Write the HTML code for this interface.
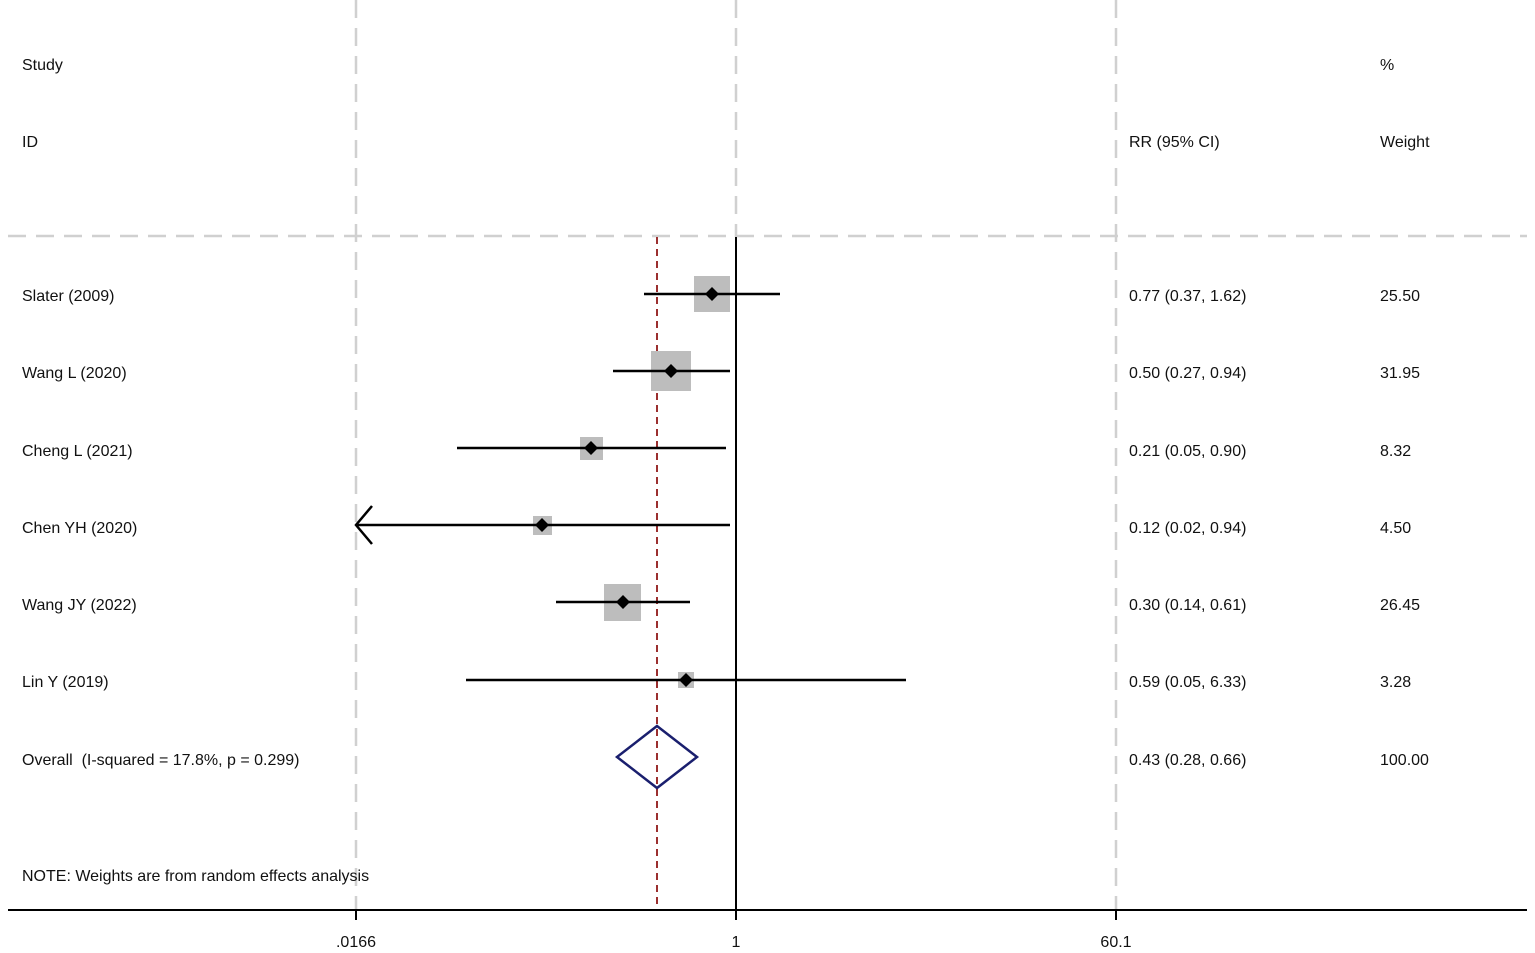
<!DOCTYPE html>
<html><head><meta charset="utf-8"><style>
html,body{margin:0;padding:0;background:#fff;}
svg{display:block}
text{font-family:"Liberation Sans",Arial,sans-serif;font-size:16px;fill:#111}
</style></head><body>
<svg width="1535" height="953" viewBox="0 0 1535 953" xmlns="http://www.w3.org/2000/svg">
<g stroke="#d0d0d0" stroke-width="2.5" stroke-dasharray="18,10" fill="none">
<line x1="356" y1="0" x2="356" y2="910"/>
<line x1="736" y1="0" x2="736" y2="237"/>
<line x1="1116" y1="0" x2="1116" y2="910"/>
<line x1="8" y1="236" x2="1527" y2="236"/>
</g>
<line x1="736" y1="237" x2="736" y2="910" stroke="#000" stroke-width="2"/>
<line x1="657" y1="237" x2="657" y2="910" stroke="#9b2f2f" stroke-width="2" stroke-dasharray="7,5"/>
<line x1="8" y1="910" x2="1527" y2="910" stroke="#000" stroke-width="2"/>
<g stroke="#000" stroke-width="2">
<line x1="356" y1="910" x2="356" y2="920"/><line x1="736" y1="910" x2="736" y2="920"/><line x1="1116" y1="910" x2="1116" y2="920"/>
</g>
<g fill="#bdbdbd">
<rect x="694" y="276" width="36" height="36"/>
<rect x="651" y="351" width="40" height="40"/>
<rect x="580" y="437" width="23" height="23"/>
<rect x="533" y="516" width="19" height="19"/>
<rect x="604" y="584" width="37" height="37"/>
<rect x="678" y="672" width="16" height="16"/>
</g>
<g stroke="#000" stroke-width="2.5">
<line x1="644" y1="294" x2="780" y2="294"/>
<line x1="613" y1="371" x2="730" y2="371"/>
<line x1="457" y1="448" x2="726" y2="448"/>
<line x1="356" y1="525" x2="730" y2="525"/>
<line x1="556" y1="602" x2="690" y2="602"/>
<line x1="466" y1="680" x2="906" y2="680"/>
<polyline points="372,506 356,525 372,544" fill="none"/>
</g>
<g fill="#000">
<polygon points="712,287 719,294 712,301 705,294"/>
<polygon points="671,364 678,371 671,378 664,371"/>
<polygon points="591,441 598,448 591,455 584,448"/>
<polygon points="542,518 549,525 542,532 535,525"/>
<polygon points="623,595 630,602 623,609 616,602"/>
<polygon points="686,673 693,680 686,687 679,680"/>
</g>
<polygon points="657,726 697,757 657,788 617,757" fill="none" stroke="#1a1f6e" stroke-width="2.5"/>
<text x="22" y="70">Study</text><text x="22" y="147">ID</text>
<text x="1129" y="147">RR (95% CI)</text>
<text x="1380" y="70">%</text><text x="1380" y="147">Weight</text>
<text x="22" y="301">Slater (2009)</text><text x="1129" y="301">0.77 (0.37, 1.62)</text><text x="1380" y="301">25.50</text>
<text x="22" y="378">Wang L (2020)</text><text x="1129" y="378">0.50 (0.27, 0.94)</text><text x="1380" y="378">31.95</text>
<text x="22" y="456">Cheng L (2021)</text><text x="1129" y="456">0.21 (0.05, 0.90)</text><text x="1380" y="456">8.32</text>
<text x="22" y="533">Chen YH (2020)</text><text x="1129" y="533">0.12 (0.02, 0.94)</text><text x="1380" y="533">4.50</text>
<text x="22" y="610">Wang JY (2022)</text><text x="1129" y="610">0.30 (0.14, 0.61)</text><text x="1380" y="610">26.45</text>
<text x="22" y="687">Lin Y (2019)</text><text x="1129" y="687">0.59 (0.05, 6.33)</text><text x="1380" y="687">3.28</text>
<text x="22" y="765" xml:space="preserve">Overall  (I-squared = 17.8%, p = 0.299)</text><text x="1129" y="765">0.43 (0.28, 0.66)</text><text x="1380" y="765">100.00</text>
<text x="22" y="881">NOTE: Weights are from random effects analysis</text>
<text x="356" y="947" text-anchor="middle">.0166</text>
<text x="736" y="947" text-anchor="middle">1</text>
<text x="1116" y="947" text-anchor="middle">60.1</text>
</svg>
</body></html>
